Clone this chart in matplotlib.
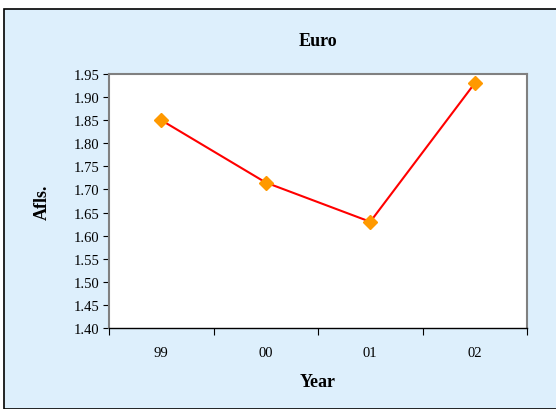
import matplotlib
matplotlib.use("Agg")
import matplotlib.pyplot as plt
from matplotlib.patches import Rectangle

years = ["99", "00", "01", "02"]
values = [1.85, 1.715, 1.63, 1.93]
yticks = [1.40, 1.45, 1.50, 1.55, 1.60, 1.65, 1.70, 1.75, 1.80, 1.85, 1.90, 1.95]

plt.rcParams['font.family'] = ['Liberation Serif', 'DejaVu Serif']

fig = plt.figure(figsize=(5.56, 4.10), dpi=100)
fig.patch.set_facecolor('white')
bg = Rectangle((4/556, 0), 1.0, 1 - 10/410, transform=fig.transFigure,
               facecolor='#DDEFFC', edgecolor='black', linewidth=1.2, zorder=-5)
fig.patches.append(bg)

ax = fig.add_axes([109/556, 1 - 329/410, 418/556, 254/410])
ax.set_zorder(1)
ax.set_facecolor('white')
x = list(range(len(years)))
ax.plot(x, values, color='#FF0000', linewidth=1.5, zorder=2)
ax.plot(x, values, linestyle='none', marker='D', markersize=7.5,
        markerfacecolor='#FF9900', markeredgecolor='#FF9900', zorder=3, clip_on=False)

ax.set_xlim(-0.5, len(years) - 0.5)
ax.set_ylim(1.40, 1.95)
ax.set_yticks(yticks)
ax.set_yticklabels([f"{v:.2f}" for v in yticks], fontsize=10.5)
ax.set_xticks([i - 0.5 for i in range(len(years) + 1)])
ax.set_xticklabels([])
ax.set_xticks(x, minor=True)
ax.set_xticklabels(years, minor=True, fontsize=10.5)
ax.tick_params(axis='x', which='minor', length=0, pad=13)
ax.tick_params(axis='x', which='major', length=5, direction='out', color='black')
ax.tick_params(axis='y', length=4, direction='out', pad=3)

for s in ['top', 'right', 'left']:
    ax.spines[s].set_color('#808080')
    ax.spines[s].set_linewidth(1.5)
ax.spines['bottom'].set_color('black')
ax.spines['bottom'].set_linewidth(1.0)

fig.text(0.5 * (109 + 527) / 556, 1 - 42 / 410, "Euro", ha='center', va='center',
         fontsize=13, fontweight='bold')
fig.text(0.5 * (109 + 527) / 556, 1 - 383 / 410, "Year", ha='center', va='center',
         fontsize=13, fontweight='bold')
fig.text(42 / 556, 1 - 202 / 410, "Afls.", ha='center', va='center', rotation=90,
         fontsize=13, fontweight='bold')

fig.savefig("out.png", dpi=100)
